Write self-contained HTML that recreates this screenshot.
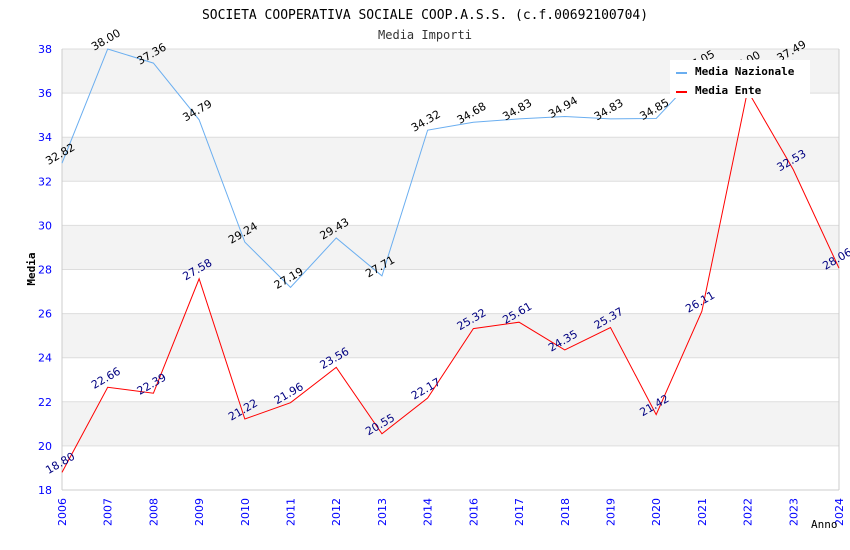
<!DOCTYPE html>
<html><head><meta charset="utf-8"><style>
body{margin:0;background:#fff}
svg{display:block}
</style></head><body>
<svg id="chart" width="850" height="550" xmlns="http://www.w3.org/2000/svg">
<text x="425" y="19" text-anchor="middle" font-family="DejaVu Sans Mono, monospace" font-size="13">SOCIETA COOPERATIVA SOCIALE COOP.A.S.S. (c.f.00692100704)</text>
<text x="425" y="39" text-anchor="middle" font-family="DejaVu Sans Mono, monospace" font-size="12" fill="#333">Media Importi</text>
<g id="bands"></g>
<g id="grid"></g>
<g id="axes"></g>
<g id="series"></g>
<g id="labels"></g>
<text transform="translate(35,269) rotate(-90)" text-anchor="middle" font-family="DejaVu Sans Mono, monospace" font-size="11" font-weight="bold">Media</text>
<text x="811" y="528" font-family="DejaVu Sans Mono, monospace" font-size="11">Anno</text>
<g>
<rect x="670" y="60" width="140" height="38" fill="#fff"/>
<line x1="676" y1="73" x2="687" y2="73" stroke="#6aaef0" stroke-width="2"/>
<text x="695" y="75" font-family="DejaVu Sans Mono, monospace" font-size="11" font-weight="bold">Media Nazionale</text>
<line x1="676" y1="92" x2="687" y2="92" stroke="#f00" stroke-width="2"/>
<text x="695" y="94" font-family="DejaVu Sans Mono, monospace" font-size="11" font-weight="bold">Media Ente</text>
</g>
</svg>
<script>
const years=[2006,2007,2008,2009,2010,2011,2012,2013,2014,2016,2017,2018,2019,2020,2021,2022,2023,2024];
const nazionale=[32.82,38.00,37.36,34.79,29.24,27.19,29.43,27.71,34.32,34.68,34.83,34.94,34.83,34.85,37.05,37.0,37.49,null];
const ente=[18.80,22.66,22.39,27.58,21.22,21.96,23.56,20.55,22.17,25.32,25.61,24.35,25.37,21.42,26.11,36.11,32.53,28.06];
const yTicks=[18,20,22,24,26,28,30,32,34,36,38];
const L=62,R=839,T=49,B=490,yMin=18,yMax=38;
const xs=i=>L+i*(R-L)/(years.length-1);
const ys=v=>B-(v-yMin)*(B-T)/(yMax-yMin);
const NS="http://www.w3.org/2000/svg";
function mk(tag,attrs,parent,txt){const e=document.createElementNS(NS,tag);for(const k in attrs)e.setAttribute(k,attrs[k]);if(txt!=null)e.textContent=txt;document.getElementById(parent).appendChild(e);return e;}
for(let v=20;v<38;v+=4){const r=mk('rect',{x:L,y:ys(v+2),width:R-L,height:ys(v)-ys(v+2),fill:'#f3f3f3'},'bands');

}
yTicks.forEach(t=>{
  const g=mk('line',{x1:L,x2:R,y1:ys(t),y2:ys(t),stroke:'#ddd'},'grid');
  
  
  const tx=mk('text',{x:L-10,y:ys(t)+4,'text-anchor':'end','font-family':'DejaVu Sans, sans-serif','font-size':11,fill:'#00f'},'axes',t);
  
  
});
mk('line',{x1:L,x2:L,y1:T,y2:B,stroke:'#ccc'},'axes');
mk('line',{x1:R,x2:R,y1:T,y2:B,stroke:'#ccc'},'axes');
mk('line',{x1:L,x2:R,y1:B,y2:B,stroke:'#ccc'},'axes');
years.forEach((y,i)=>{
  const tx=mk('text',{transform:`translate(${xs(i)+4},${B+8}) rotate(-90)`,'text-anchor':'end','font-family':'DejaVu Sans, sans-serif','font-size':11,fill:'#00f'},'axes',y);
  
  
});
function series(data,color,lblColor,name){
  const pts=data.map((v,i)=>v==null?null:[xs(i),ys(v)]).filter(p=>p);
  const p=mk('polyline',{points:pts.map(p=>p.join(',')).join(' '),fill:'none',stroke:color,'stroke-width':1},'series');
  
  
  data.forEach((v,i)=>{if(v==null)return;
    const t=mk('text',{transform:`translate(${xs(i)},${ys(v)-6}) rotate(-30)`,'text-anchor':'middle','font-family':'DejaVu Sans, sans-serif','font-size':11,fill:lblColor},'labels',v.toFixed(2));
    
    
  });
}
series(nazionale,'#6aaef0','#000','nazionale');
series(ente,'#f00','#000080','ente');
</script>
</body></html>
